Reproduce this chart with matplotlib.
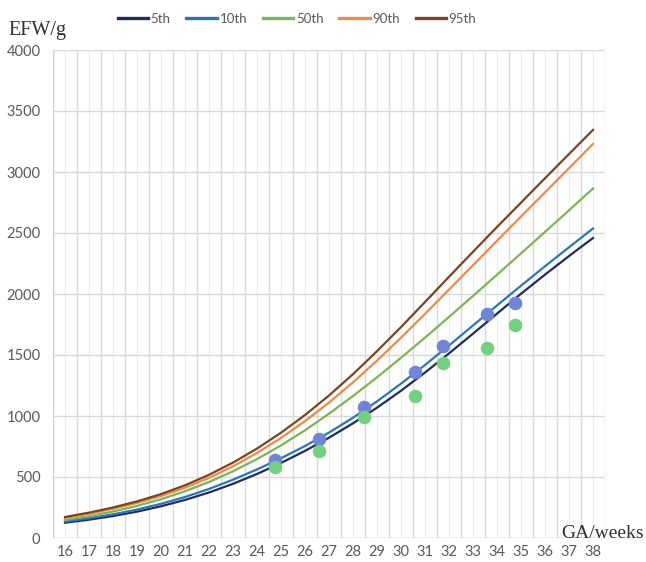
import matplotlib.pyplot as plt

# gestational age (weeks) and EFW percentile curves (g)
weeks = list(range(16, 39))
p5 = [125, 150, 180, 216, 260, 312, 373, 444, 525, 615, 714, 822, 940, 1068,
      1207, 1356, 1513, 1675, 1839, 2002, 2159, 2311, 2459]
p10 = [135, 162, 194, 233, 280, 336, 402, 478, 562, 654, 754, 864, 986, 1120,
       1265, 1418, 1578, 1742, 1906, 2068, 2227, 2383, 2537]
p50 = [148, 179, 217, 263, 318, 383, 459, 547, 647, 759, 883, 1019, 1164, 1317,
       1477, 1642, 1812, 1984, 2158, 2333, 2509, 2686, 2865]
p90 = [165, 199, 239, 287, 344, 412, 493, 588, 697, 820, 958, 1110, 1276, 1454,
       1642, 1837, 2036, 2236, 2436, 2635, 2833, 3031, 3230]
p95 = [172, 208, 250, 300, 360, 432, 518, 618, 733, 863, 1008, 1168, 1343, 1531,
       1729, 1934, 2141, 2346, 2549, 2749, 2949, 3147, 3345]

# measured fetus points
ga_pts = [24.75, 26.6, 28.45, 30.6, 31.75, 33.6, 34.75]
efw_blue = [639, 811, 1074, 1361, 1574, 1836, 1926]
efw_green = [582, 713, 992, 1164, 1434, 1557, 1746]

curves = [('5th', p5, '#1f2d5e'), ('10th', p10, '#2e75b6'),
          ('50th', p50, '#7fb456'), ('90th', p90, '#ec8a4a'),
          ('95th', p95, '#7b4420')]

fig = plt.figure(figsize=(6.46, 5.62), dpi=100)
ax = fig.add_axes([53 / 646, 24 / 562, 552 / 646, 488 / 562])

for name, vals, col in curves:
    ax.plot(weeks, vals, color=col, lw=1.6, label=name, zorder=3)

ax.scatter(ga_pts, efw_blue, s=95, color='#6f86d6', zorder=4, linewidths=0)
ax.scatter(ga_pts, efw_green, s=95, color='#72d07e', zorder=4, linewidths=0)

ax.set_xlim(15.5, 38.5)
ax.set_ylim(0, 4000)
ax.set_yticks(range(0, 4001, 500))
ax.set_xticks([w - 0.5 for w in weeks] + [38.5])
ax.set_xticklabels([])
ax.set_xticks(weeks, minor=True)
ax.set_xticklabels([str(w) for w in weeks], minor=True)

ax.grid(True, which='major', color='#d9d9d9', lw=1.0, zorder=0)
ax.grid(True, which='minor', axis='x', color='#ededed', lw=0.8, zorder=0)
ax.set_axisbelow(True)
ax.tick_params(which='both', length=0)
ax.tick_params(axis='x', which='minor', pad=5, labelsize=10.5, labelcolor='#595959',
               labelfontfamily='Lato')
ax.tick_params(axis='y', pad=9, labelsize=10.5, labelcolor='#595959',
               labelfontfamily='Lato')
for s in ax.spines.values():
    s.set_visible(False)
ax.axhline(0, color='#d0d0d0', lw=1.0, zorder=1)
ax.axvline(15.5, color='#d0d0d0', lw=1.0, zorder=1)

fig.text(8 / 646, 1 - 30 / 562, 'EFW/g', family='Liberation Serif', fontsize=14.5,
         color='#303030', va='center', ha='left')
fig.text(644 / 646, 1 - 533 / 562, 'GA/weeks', family='Liberation Serif', fontsize=14,
         color='#303030', va='center', ha='right')

leg = fig.legend(loc='center', bbox_to_anchor=(297 / 646, 1 - 19 / 562), ncol=5,
                 frameon=False, handlelength=2.3, handletextpad=0.2, columnspacing=1.2,
                 prop={'family': 'Lato', 'size': 9.5}, labelcolor='#595959')
for h in leg.get_lines():
    h.set_linewidth(2.4)

fig.savefig('out.png', dpi=100)
